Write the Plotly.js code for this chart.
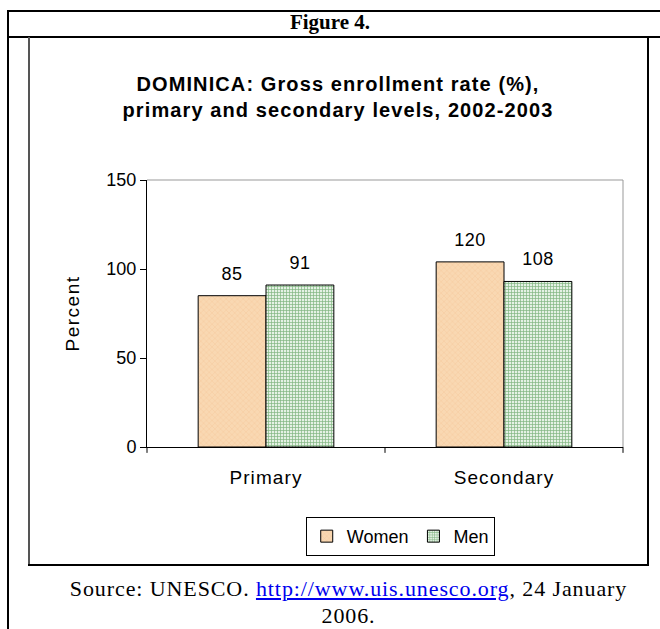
<!DOCTYPE html>
<html>
<head>
<meta charset="utf-8">
<script src="https://cdn.plot.ly/plotly-3.0.1.min.js"></script>
<style>
  html, body { margin:0; padding:0; background:#fff; width:660px; height:629px; overflow:hidden; }
  #chart { position:absolute; left:0; top:0; width:660px; height:629px; }
  .ln { position:absolute; background:#000; pointer-events:none; }
  .txt { position:absolute; font-family:"Liberation Serif","Times New Roman",serif; color:#000; text-align:center; pointer-events:none; }
  a { color:#0000ee; }
</style>
</head>
<body>
<!-- outer table frame -->
<div class="ln" style="left:7px;top:10px;width:653px;height:2px;"></div>
<div class="ln" style="left:7px;top:36px;width:653px;height:2px;"></div>
<div class="ln" style="left:7px;top:10px;width:2px;height:619px;"></div>
<!-- inner chart box -->
<div class="ln" style="left:28px;top:37px;width:2px;height:529px;background:#555;"></div>
<div class="ln" style="left:647px;top:37px;width:2px;height:529px;"></div>
<div class="ln" style="left:28px;top:564px;width:621px;height:2px;"></div>
<div class="txt" style="left:0;top:10px;width:660px;font-size:21px;font-weight:bold;line-height:24px;">Figure 4.</div>
<div id="chart"></div>
<div class="txt" style="left:38px;top:575px;width:621px;font-size:22px;line-height:27px;letter-spacing:0.9px;">Source: UNESCO. <a href="http://www.uis.unesco.org">http://www.uis.unesco.org</a>, 24 January<br>2006.</div>
<script>
const categories = ["Primary", "Secondary"];
// data labels as printed on the chart
const womenLabels = [85, 120];
const menLabels = [91, 108];
// bar heights as drawn against the Percent axis
const women = [85, 104];
const men = [91, 93];
const yTicks = [0, 50, 100, 150];

const BARGAP = 0.43;
const half = (1 - BARGAP) / 4;
const sansFont = "Liberation Sans, Arial, sans-serif";

const traces = [
  {
    type: "bar", name: "Women", x: categories, y: women,
    marker: {color: "#f9d8b2", line: {color: "#000", width: 1},
      pattern: {shape: "x", bgcolor: "#f9d8b2", fgcolor: "#f3c79a", size: 4, solidity: 0.2}}
  },
  {
    type: "bar", name: "Men", x: categories, y: men,
    marker: {color: "#d6ead6", line: {color: "#000", width: 1},
      pattern: {shape: "+", bgcolor: "#e4f1e4", fgcolor: "#7fb57f", size: 3, solidity: 0.4}}
  }
];

const annotations = [];
women.forEach((v, i) => annotations.push({x: i - half, y: v, xref: "x", yref: "y", text: String(womenLabels[i]),
  showarrow: false, yshift: 22, yanchor: "middle", font: {size: 18}}));
men.forEach((v, i) => annotations.push({x: i + half, y: v, xref: "x", yref: "y", text: String(menLabels[i]),
  showarrow: false, yshift: 22, yanchor: "middle", font: {size: 18}}));

const layout = {
  width: 660, height: 629,
  margin: {l: 147, r: 37, t: 180, b: 182},
  paper_bgcolor: "rgba(0,0,0,0)", plot_bgcolor: "#fff",
  font: {family: sansFont, size: 17, color: "#000"},
  barmode: "group", bargap: BARGAP, bargroupgap: 0,
  showlegend: true,
  legend: {orientation: "h", x: 0.532, xanchor: "center", y: -0.262, yanchor: "top",
    bordercolor: "#000", borderwidth: 1, font: {size: 18},
    itemwidth: 30, tracegroupgap: 0, itemclick: false},
  xaxis: {
    type: "category", showline: true, linecolor: "#000", linewidth: 1,
    ticks: "", showgrid: false, tickfont: {size: 19}, ticklabelstandoff: 13,
    range: [-0.5, 1.5]
  },
  yaxis: {
    range: [0, 150], tickvals: yTicks, ticktext: yTicks.map(String),
    showline: true, linecolor: "#000", linewidth: 1, ticks: "outside", ticklen: 6,
    tickcolor: "#000", showgrid: false, zeroline: false, tickfont: {size: 18},
    title: {text: "Percent", font: {size: 19}, standoff: 21}
  },
  title: {
    text: "<b>DOMINICA: Gross enrollment rate (%),<br>primary and secondary levels, 2002-2003</b>",
    font: {size: 20, family: sansFont},
    x: 338/660, xanchor: "center", y: 1 - 91/629, yanchor: "middle", yref: "container"
  },
  annotations: annotations,
  shapes: [
    {type: "line", xref: "paper", yref: "paper", x0: 0, x1: 1, y0: 1, y1: 1, line: {color: "#999", width: 1}},
    {type: "line", xref: "paper", yref: "paper", x0: 1, x1: 1, y0: 0, y1: 1, line: {color: "#999", width: 1}},
    {type: "line", xref: "paper", yref: "paper", x0: 0, x1: 0, y0: 0, y1: -0.022, line: {color: "#000", width: 1}},
    {type: "line", xref: "paper", yref: "paper", x0: 0.5, x1: 0.5, y0: 0, y1: -0.022, line: {color: "#000", width: 1}},
    {type: "line", xref: "paper", yref: "paper", x0: 1, x1: 1, y0: 0, y1: -0.022, line: {color: "#000", width: 1}}
  ]
};

Plotly.newPlot("chart", traces, layout, {displayModeBar: false, staticPlot: true}).then(gd => {
  const sp = (sel, v) => gd.querySelectorAll(sel).forEach(e => e.style.letterSpacing = v);
  sp(".gtitle", "1.1px");
  sp(".ytitle", "1.5px");
  sp(".xtick text", "1.1px");
  sp(".annotation-text", "0.5px");
});
</script>
</body>
</html>
